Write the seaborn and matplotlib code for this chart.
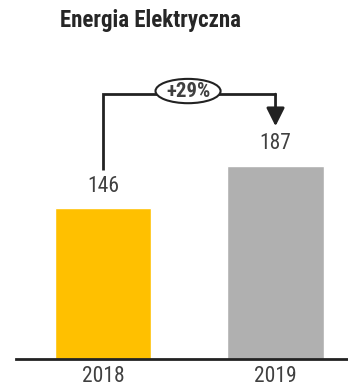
import matplotlib
matplotlib.use("Agg")
import matplotlib.pyplot as plt
from matplotlib.patches import Ellipse
import seaborn as sns

years = ["2018", "2019"]
values = [146, 187]
bar_colors = ["#FFC000", "#B0B0B0"]
change_label = "+29%"
title = "Energia Elektryczna"

sns.set_style("white")
plt.rcParams["font.family"] = ["Roboto Condensed", "DejaVu Sans"]

text_color = "#404040"
line_color = "#222222"

fig = plt.figure(figsize=(3.48, 3.91), dpi=100)
ax = fig.add_axes([16 / 348, 32 / 391, 332 / 348, 359 / 391])

sns.barplot(x=years, y=values, hue=years, palette=bar_colors, width=0.56,
            legend=False, ax=ax, saturation=1)

ax.set_xlim(-0.504, 1.42)
ax.set_ylim(0, 347)

for side in ("left", "right", "top"):
    ax.spines[side].set_visible(False)
ax.spines["bottom"].set_color(line_color)
ax.spines["bottom"].set_linewidth(2)
ax.set_yticks([])
ax.tick_params(axis="x", length=0, pad=5, labelsize=15.5, labelcolor=text_color)
ax.set_xlabel("")
ax.set_ylabel("")

# value labels above bars
for i, v in enumerate(values):
    ax.annotate(str(v), xy=(i, v), xytext=(0, 8), textcoords="offset points",
                ha="center", va="bottom", fontsize=15.5, color=text_color)

# growth connector: up from first bar, across, down with arrow to second bar
top = max(values) + 69
start = values[0] + 37
tip = values[1] + 38
ax.plot([0, 0, 1, 1], [start, top, top, top], color=line_color, lw=2,
        solid_joinstyle="miter", solid_capstyle="butt")
ax.annotate("", xy=(1, tip), xytext=(1, top),
            arrowprops=dict(arrowstyle="-|>,head_length=1.1,head_width=0.55",
                            mutation_scale=10, lw=2, color=line_color,
                            shrinkA=0, shrinkB=0))

ell = Ellipse((0.493, top + 3), width=0.377, height=23.5, facecolor="white",
              edgecolor=line_color, lw=1.5, zorder=5)
ax.add_patch(ell)
ax.text(0.493, top + 3, change_label, ha="center", va="center", fontsize=15,
        fontweight="bold", color=text_color, zorder=6)

fig.text(150 / 348, 1 - 20 / 391, title, ha="center", va="center",
         fontsize=16.5, fontweight="bold", color="#262626")

fig.savefig("out.png", dpi=100)
